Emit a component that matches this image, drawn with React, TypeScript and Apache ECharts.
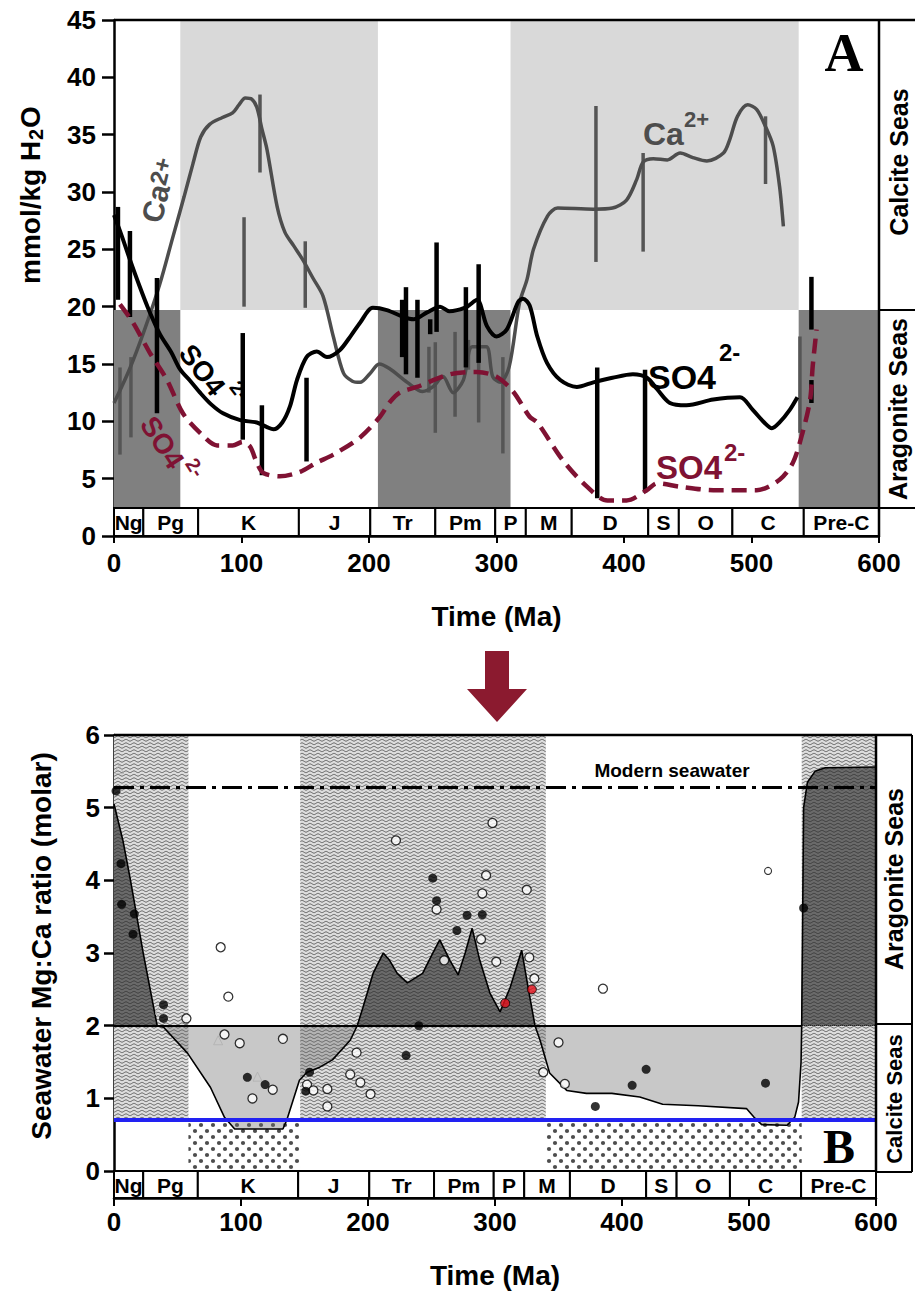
import React, { useEffect, useRef } from 'react';
import * as echarts from 'echarts';

const FONT = 'Liberation Sans';
const SERIF = 'Liberation Serif';

// ---------- shared geological time strip ----------
const periodLabels = ['Ng', 'Pg', 'K', 'J', 'Tr', 'Pm', 'P', 'M', 'D', 'S', 'O', 'C', 'Pre-C'];
const periodStarts = [0, 23, 66, 145, 201, 252, 299, 323, 359, 419, 443, 485, 541];
const periodEnds = [23, 66, 145, 201, 252, 299, 323, 359, 419, 443, 485, 541, 600];

// ---------- Panel A ----------
const calciteBandsA = [[52, 207], [311, 537]];
const aragoniteBandsA = [[0, 52], [207, 311], [537, 600]];
const seaBoundaryA = 19.7;
const stripTopA = 2.45;

const caCurve = [
  [0, 11.6], [12, 14.5], [24, 18.0], [36, 22.0], [46, 26.0], [55, 29.6], [62, 32.5], [68, 34.8], [75, 35.9],
  [85, 36.5], [93, 36.9], [98, 37.6], [103, 38.2], [108, 38.1], [112, 37.4], [116, 35.5], [120, 33.7], [128, 28.7],
  [134, 26.5], [141, 25.3], [148, 24.1], [156, 22.5], [164, 20.9], [172, 17.4], [180, 14.2], [187, 13.5], [193, 13.4],
  [201, 14.2], [208, 15.0], [216, 14.6], [230, 13.4], [242, 12.6], [250, 13.0], [258, 13.9], [266, 12.5], [274, 13.6],
  [281, 16.5], [292, 16.5], [297, 13.9], [303, 13.4], [310, 14.8], [318, 20.3], [324, 22.4], [329, 25.0], [340, 27.9],
  [348, 28.6], [376, 28.5], [391, 28.6], [402, 29.3], [410, 31.1], [415, 32.6], [423, 32.9], [434, 32.8], [444, 33.4],
  [454, 33.0], [465, 32.7], [478, 33.4], [483, 34.6], [489, 36.6], [497, 37.6], [504, 37.2], [511, 35.7], [517, 34.0],
  [522, 30.5], [525, 27.0],
];
const so4Curve = [
  [0, 28.0], [6, 26.2], [12.5, 24.1], [20, 21.8], [27, 19.8], [36, 17.6], [45, 16.0], [52, 14.5], [60, 13.5],
  [67.5, 12.5], [76, 11.5], [85.5, 10.7], [99, 10.1], [112, 9.9], [120, 9.5], [125, 9.3], [132, 9.9], [138, 11.3],
  [143.5, 13.6], [151, 15.6], [159, 16.1], [167, 15.6], [177, 16.2], [186, 17.5], [193, 18.6], [203, 19.9], [214, 19.7],
  [227, 19.1], [235, 18.9], [245.6, 19.5], [255.7, 20.0], [263, 19.6], [269, 19.7], [277, 20.0], [284.7, 20.6],
  [292.5, 18.3], [300, 17.4], [308, 18.0], [316.9, 20.4], [320.8, 20.7], [326, 20.1], [332, 17.4], [339.6, 15.1],
  [350, 13.6], [363, 13.0], [376, 13.4], [391, 13.8], [407, 14.1], [418, 13.8], [426, 12.8], [436, 11.6], [449, 11.4],
  [470, 11.9], [491, 12.1], [501, 11.0], [510, 9.9], [516, 9.4], [522, 9.9], [530, 11.0], [536, 12.1],
];
const so4Model = [
  [4.7, 20.2], [15, 18.6], [28, 16.0], [41.6, 13.6], [54, 10.7], [67.5, 9.0], [80.8, 7.9], [93, 7.9], [101, 8.2],
  [106.7, 7.8], [112, 6.4], [117, 5.5], [130, 5.2], [146, 5.6], [159, 6.4], [172, 7.1], [193, 8.6], [208.6, 10.4],
  [216.5, 11.7], [224, 12.5], [237.6, 13.0], [263.5, 14.1], [284.7, 14.3], [300, 13.9], [313, 12.6], [326, 10.4],
  [332, 9.9], [352, 6.6], [371, 4.3], [387, 3.1], [402, 3.1], [418, 4.0], [426, 4.6], [444, 4.3], [470, 4.0],
  [504, 4.0], [522, 4.9], [532.5, 6.4], [540, 9.0], [546, 11.9], [548, 14.8], [551, 18.0],
];
// [Ma, low, high]
const so4Bars = [
  [3.1, 20.6, 28.7], [12.5, 19.1, 26.6], [33.7, 10.7, 22.5], [101, 8.4, 17.7], [116, 5.3, 11.4], [151, 6.5, 13.8],
  [226, 15.6, 20.6], [229, 14.1, 21.7], [238, 13.8, 20.6], [248, 17.6, 18.9], [253, 17.8, 25.6], [276, 14.7, 21.7],
  [286, 15.1, 23.7], [379, 3.3, 14.7], [416.5, 3.8, 14.5], [547, 18.0, 22.6], [547, 11.6, 13.6],
];
const caBars = [
  [4.7, 7.1, 14.7], [13.3, 8.6, 15.6], [102, 20.0, 27.8], [114.5, 31.7, 38.5], [150, 19.9, 25.7], [247, 12.5, 16.5],
  [252, 9.0, 16.9], [267.5, 10.4, 17.8], [278, 14.5, 17.1], [286, 9.9, 16.5], [305, 7.2, 15.6], [378, 23.9, 37.5],
  [415, 24.8, 33.4], [511, 30.7, 36.6], [538, 9.0, 17.4],
];

// ---------- Panel B ----------
const mgcaCurve = [
  [0, 5.05], [7, 4.55], [13, 4.0], [23, 3.0], [34, 2.0], [39, 1.98], [58, 1.62], [76, 1.15], [87, 0.74], [95, 0.58],
  [133, 0.58], [136, 0.7], [146, 1.25], [152, 1.36], [162, 1.43], [172, 1.53], [186, 1.8], [191.5, 2.0], [196, 2.25],
  [204, 2.72], [212, 3.0], [217, 2.9], [223, 2.72], [231, 2.59], [243, 2.72], [251, 3.0], [256.5, 3.18], [264.5, 2.9],
  [271, 2.7], [276.5, 3.0], [282, 3.34], [288, 2.9], [296, 2.45], [304, 2.19], [312, 2.53], [321, 3.04], [326, 2.53],
  [331.5, 2.0], [335.5, 1.8], [343, 1.35], [356.5, 1.11], [372, 1.07], [392, 1.07], [414, 1.02], [432, 0.92],
  [460, 0.9], [498, 0.86], [504, 0.74], [510, 0.64], [530, 0.63], [536, 0.74], [539, 0.95], [541, 1.5], [541.5, 2.0],
  [543, 5.0], [546, 5.35], [552, 5.5], [560, 5.55], [600, 5.56],
];
const aragoniteBandsB = [[0, 58.6], [146.6, 340], [541.5, 600]];
const calciteBandsB = [[58.6, 146.6], [340, 541.5]];
const modernMgCa = 5.28;
const thresholdMgCa = 2;
const thresholdEnd = 541.5;
const blueMgCa = 0.7;
const stripBottomB = -0.37;
const mgcaTicks = [0, 1, 2, 3, 4, 5, 6];

const filledPts = [
  [1.6, 5.23], [5.5, 4.23], [6, 3.67], [15, 3.26], [16, 3.54], [39, 2.29], [39, 2.1], [105, 1.29], [119, 1.19],
  [151, 1.1], [154, 1.36], [230, 1.59], [240, 2.0], [251, 4.03], [254, 3.72], [270, 3.31], [278, 3.52], [290, 3.53],
  [379, 0.89], [408, 1.18], [419, 1.4], [513, 1.21], [543, 3.62],
];
const openPts = [
  [57, 2.1], [84, 3.08], [87, 1.88], [90, 2.4], [99, 1.76], [109, 1.0], [125, 1.12], [133, 1.82], [152, 1.19],
  [157, 1.11], [168, 1.13], [168, 0.89], [186, 1.33], [191, 1.63], [194, 1.22], [202, 1.06], [222, 4.55], [254, 3.6],
  [260, 2.9], [289, 3.19], [290, 3.82], [293, 4.07], [298, 4.79], [301, 2.88], [325, 3.87], [327, 2.94], [331, 2.65],
  [338, 1.36], [350, 1.77], [355, 1.2], [385, 2.51],
];
const smallOpenPts = [[515, 4.13]];
const redPts = [[308, 2.31], [329, 2.5]];
const triPts = [[4, 5.53], [36, 2.22], [82, 1.8], [113, 1.3]];

// ---------- helpers ----------
function makeWave() {
  const w = 16, h = 7;
  const c = document.createElement('canvas');
  c.width = w; c.height = h;
  const g = c.getContext('2d')!;
  g.fillStyle = '#dddddd';
  g.fillRect(0, 0, w, h);
  g.strokeStyle = '#5a5a5a';
  g.lineWidth = 1;
  [1.75, 5.25].forEach((y0) => {
    g.beginPath();
    for (let x = 0; x <= w; x += 0.5) {
      const y = y0 + 0.85 * Math.sin((2 * Math.PI * x) / 8);
      if (x === 0) g.moveTo(x, y); else g.lineTo(x, y);
    }
    g.stroke();
  });
  return { type: 'pattern', image: c.toDataURL(), repeat: 'repeat', imageWidth: w, imageHeight: h };
}
function makeDots() {
  const w = 12, h = 12;
  const c = document.createElement('canvas');
  c.width = w; c.height = h;
  const g = c.getContext('2d')!;
  g.fillStyle = '#ffffff';
  g.fillRect(0, 0, w, h);
  g.fillStyle = '#4d4d4d';
  [[3, 3], [9, 9]].forEach(([x, y]) => { g.beginPath(); g.arc(x, y, 2.1, 0, Math.PI * 2); g.fill(); });
  return { type: 'pattern', image: c.toDataURL(), repeat: 'repeat', imageWidth: w, imageHeight: h };
}

function textEl(x: number, y: number, text: string, size: number, o: any = {}) {
  const align = o.align || 'left';
  const valign = o.valign || 'middle';
  return {
    type: 'text', x, y, z: 50, rotation: o.rot || 0,
    style: {
      text, fill: o.color || '#000',
      font: `${o.weight || 'bold'} ${size}px "${o.family || FONT}"`,
      textAlign: align, align, textVerticalAlign: valign, verticalAlign: valign,
    },
  };
}
function chem(x: number, y: number, rot: number, color: string, main: string, size: number, sup: string, supSize: number, supDx: number, supDy: number) {
  return {
    type: 'group', x, y, rotation: rot, z: 50,
    children: [
      { type: 'text', x: 0, y: 0, z: 50, style: { text: main, fill: color, font: `bold ${size}px "${FONT}"`, textAlign: 'left', align: 'left', textVerticalAlign: 'middle', verticalAlign: 'middle' } },
      { type: 'text', x: supDx, y: supDy, z: 50, style: { text: sup, fill: color, font: `bold ${supSize}px "${FONT}"`, textAlign: 'left', align: 'left', textVerticalAlign: 'middle', verticalAlign: 'middle' } },
    ],
  };
}
function lineEl(x1: number, y1: number, x2: number, y2: number, w = 2.5) {
  return { type: 'line', z: 40, shape: { x1, y1, x2, y2 }, style: { stroke: '#000', lineWidth: w } };
}

function barSeries(data: number[][], color: string, width: number, z: number) {
  return {
    type: 'custom', xAxisIndex: 0, yAxisIndex: 0, z, silent: true, data, encode: { x: 0, y: [1, 2] },
    renderItem: (_p: any, api: any) => {
      const a = api.coord([api.value(0), api.value(1)]);
      const b = api.coord([api.value(0), api.value(2)]);
      return { type: 'line', shape: { x1: a[0], y1: a[1], x2: b[0], y2: b[1] }, style: { stroke: color, lineWidth: width, lineCap: 'butt' } };
    },
  };
}
function stripSeries(idx: number, y0: number, y1: number) {
  return {
    type: 'custom', xAxisIndex: idx, yAxisIndex: idx, z: 12, silent: true,
    data: periodStarts.map((s, i) => [s, periodEnds[i]]), encode: { x: [0, 1] },
    renderItem: (p: any, api: any) => {
      const a = api.coord([api.value(0), y0]);
      const b = api.coord([api.value(1), y1]);
      return {
        type: 'group',
        children: [
          { type: 'rect', shape: { x: a[0], y: b[1], width: b[0] - a[0], height: a[1] - b[1] }, style: { fill: '#fff', stroke: '#000', lineWidth: 2 } },
          { type: 'text', x: (a[0] + b[0]) / 2, y: (a[1] + b[1]) / 2 + 1, style: { text: periodLabels[p.dataIndex], fill: '#000', font: `bold 21px "${FONT}"`, textAlign: 'center', align: 'center', textVerticalAlign: 'middle', verticalAlign: 'middle' } },
        ],
      };
    },
  };
}

function buildOption() {
  const wave = makeWave();
  const dots = makeDots();
  const lbl = { color: '#000', fontSize: 26, fontWeight: 'bold', fontFamily: FONT };
  const axLine = { show: true, onZero: false, lineStyle: { color: '#000', width: 2.5 } };
  const nameStyle = { color: '#000', fontSize: 28, fontWeight: 'bold', fontFamily: FONT };

  return {
    animation: false,
    backgroundColor: '#fff',
    textStyle: { fontFamily: FONT },
    grid: [
      { left: 114, top: 20, width: 765, height: 516, outerBoundsMode: 'none' },
      { left: 114, top: 735, width: 762, height: 463, outerBoundsMode: 'none' },
    ],
    xAxis: [
      {
        gridIndex: 0, type: 'value', min: 0, max: 600, interval: 100, axisLine: axLine,
        axisTick: { show: true, length: 7, lineStyle: { color: '#000', width: 2 } },
        axisLabel: { ...lbl, margin: 14 }, splitLine: { show: false },
        name: 'Time (Ma)', nameLocation: 'middle', nameGap: 66, nameTextStyle: nameStyle,
      },
      {
        gridIndex: 1, type: 'value', min: 0, max: 600, interval: 100, axisLine: axLine,
        axisTick: { show: true, length: 8, lineStyle: { color: '#000', width: 2 } },
        axisLabel: { ...lbl, margin: 11 }, splitLine: { show: false },
        name: 'Time (Ma)', nameLocation: 'middle', nameGap: 63, nameTextStyle: nameStyle,
      },
    ],
    yAxis: [
      {
        gridIndex: 0, type: 'value', min: 0, max: 45, interval: 5, axisLine: axLine,
        axisTick: { show: true, length: 12, lineStyle: { color: '#000', width: 2.5 } },
        axisLabel: { ...lbl, margin: 18 }, splitLine: { show: false },
      },
      {
        gridIndex: 1, type: 'value', min: stripBottomB, max: 6, axisLine: axLine,
        axisTick: { show: true, length: 10, customValues: mgcaTicks, lineStyle: { color: '#000', width: 2.5 } },
        axisLabel: { ...lbl, margin: 14, customValues: mgcaTicks }, splitLine: { show: false },
      },
    ],
    series: [
      // ---- Panel A backgrounds
      {
        type: 'line', xAxisIndex: 0, yAxisIndex: 0, data: [], z: 1, silent: true,
        markArea: {
          silent: true, label: { show: false },
          data: [
            ...calciteBandsA.map(([a, b]) => [{ coord: [a, seaBoundaryA], itemStyle: { color: '#d9d9d9' } }, { coord: [b, 45] }]),
            ...aragoniteBandsA.map(([a, b]) => [{ coord: [a, stripTopA], itemStyle: { color: '#808080' } }, { coord: [b, seaBoundaryA] }]),
          ],
        },
      },
      barSeries(caBars, '#555555', 3.5, 3),
      {
        type: 'line', xAxisIndex: 0, yAxisIndex: 0, data: caCurve, z: 4, smooth: 0.3, symbol: 'none', silent: true,
        lineStyle: { color: '#4d4d4d', width: 3.5 },
      },
      barSeries(so4Bars, '#000000', 4.5, 5),
      {
        type: 'line', xAxisIndex: 0, yAxisIndex: 0, data: so4Curve, z: 6, smooth: 0.3, symbol: 'none', silent: true,
        lineStyle: { color: '#000', width: 4 },
      },
      {
        type: 'line', xAxisIndex: 0, yAxisIndex: 0, data: so4Model, z: 7, smooth: 0.3, symbol: 'none', silent: true,
        lineStyle: { color: '#7f1233', width: 4.5, type: [15, 8] },
      },
      stripSeries(0, 0, stripTopA),

      // ---- Panel B backgrounds
      {
        type: 'line', xAxisIndex: 1, yAxisIndex: 1, data: [], z: 1, silent: true,
        markArea: {
          silent: true, label: { show: false }, itemStyle: { color: wave },
          data: aragoniteBandsB.map(([a, b]) => [{ coord: [a, blueMgCa] }, { coord: [b, 6] }]),
        },
      },
      {
        type: 'line', xAxisIndex: 1, yAxisIndex: 1, data: [], z: 1, silent: true,
        markArea: {
          silent: true, label: { show: false }, itemStyle: { color: dots },
          data: calciteBandsB.map(([a, b]) => [{ coord: [a, 0] }, { coord: [b, blueMgCa] }]),
        },
      },
      {
        type: 'line', xAxisIndex: 1, yAxisIndex: 1, z: 2, symbol: 'none', silent: true,
        data: mgcaCurve.map(([x, v]) => [x, Math.min(v, thresholdMgCa)]),
        lineStyle: { width: 0, opacity: 0 },
        areaStyle: { color: 'rgba(110,110,110,0.38)', origin: thresholdMgCa, opacity: 1 },
      },
      {
        type: 'line', xAxisIndex: 1, yAxisIndex: 1, z: 3, symbol: 'none', silent: true,
        data: mgcaCurve.map(([x, v]) => [x, Math.max(v, thresholdMgCa)]),
        lineStyle: { width: 0, opacity: 0 },
        areaStyle: { color: 'rgba(40,40,40,0.64)', origin: thresholdMgCa, opacity: 1 },
      },
      {
        type: 'line', xAxisIndex: 1, yAxisIndex: 1, z: 4, symbol: 'none', silent: true, data: mgcaCurve,
        lineStyle: { color: '#000', width: 1.6 },
        markLine: {
          silent: true, symbol: ['none', 'none'], label: { show: false },
          lineStyle: { color: '#000', width: 1.8, type: 'solid' },
          data: [[{ coord: [0, thresholdMgCa] }, { coord: [thresholdEnd, thresholdMgCa] }]],
        },
      },
      {
        type: 'line', xAxisIndex: 1, yAxisIndex: 1, data: [], z: 5, silent: true,
        markLine: {
          silent: true, symbol: ['none', 'none'], label: { show: false },
          lineStyle: { color: '#000', width: 1, type: 'dotted' },
          data: [[{ coord: [thresholdEnd, thresholdMgCa] }, { coord: [600, thresholdMgCa] }]],
        },
      },
      {
        type: 'line', xAxisIndex: 1, yAxisIndex: 1, data: [], z: 5, silent: true,
        markLine: {
          silent: true, symbol: ['none', 'none'], label: { show: false },
          lineStyle: { color: '#000', width: 2.8, type: [20, 6, 4, 6] },
          data: [[{ coord: [0, modernMgCa] }, { coord: [600, modernMgCa] }]],
        },
      },
      {
        type: 'line', xAxisIndex: 1, yAxisIndex: 1, data: [], z: 6, silent: true,
        markLine: {
          silent: true, symbol: ['none', 'none'], label: { show: false },
          lineStyle: { color: '#2222f2', width: 4, type: 'solid' },
          data: [[{ coord: [0, blueMgCa] }, { coord: [600, blueMgCa] }]],
        },
      },
      {
        type: 'scatter', xAxisIndex: 1, yAxisIndex: 1, z: 8, silent: true, data: triPts, symbol: 'triangle', symbolSize: 9,
        itemStyle: { color: 'rgba(255,255,255,0)', borderColor: '#b0b0b0', borderWidth: 1 },
      },
      {
        type: 'scatter', xAxisIndex: 1, yAxisIndex: 1, z: 8, silent: true, data: openPts, symbolSize: 9,
        itemStyle: { color: '#fff', borderColor: '#000', borderWidth: 1.3 },
      },
      {
        type: 'scatter', xAxisIndex: 1, yAxisIndex: 1, z: 8, silent: true, data: smallOpenPts, symbolSize: 7,
        itemStyle: { color: '#fff', borderColor: '#000', borderWidth: 1.1 },
      },
      {
        type: 'scatter', xAxisIndex: 1, yAxisIndex: 1, z: 8, silent: true, data: filledPts, symbolSize: 9,
        itemStyle: { color: '#000' },
      },
      {
        type: 'scatter', xAxisIndex: 1, yAxisIndex: 1, z: 8, silent: true, data: redPts, symbolSize: 9,
        itemStyle: { color: '#e3101c', borderColor: '#000', borderWidth: 1 },
      },
      stripSeries(1, stripBottomB, 0),
    ],
    graphic: {
      elements: [
        // axis titles
        {
          type: 'group', x: 30, y: 284, rotation: Math.PI / 2, z: 50,
          children: [
            { type: 'text', x: 0, y: 0, style: { text: 'mmol/kg H', fill: '#000', font: `bold 28px "${FONT}"`, textAlign: 'left', align: 'left', textVerticalAlign: 'middle', verticalAlign: 'middle' } },
            { type: 'text', x: 144, y: 6, style: { text: '2', fill: '#000', font: `bold 20px "${FONT}"`, textAlign: 'left', align: 'left', textVerticalAlign: 'middle', verticalAlign: 'middle' } },
            { type: 'text', x: 156, y: 0, style: { text: 'O', fill: '#000', font: `bold 28px "${FONT}"`, textAlign: 'left', align: 'left', textVerticalAlign: 'middle', verticalAlign: 'middle' } },
          ],
        },
        textEl(41, 946, 'Seawater Mg:Ca ratio (molar)', 28, { align: 'center', rot: Math.PI / 2 }),
        // panel A frame & column
        lineEl(114, 20, 915, 20),
        lineEl(879, 20, 879, 536),
        lineEl(879, 310, 915, 310, 2),
        lineEl(879, 508, 915, 508, 2),
        textEl(899, 162, 'Calcite Seas', 25, { align: 'center', rot: Math.PI / 2 }),
        textEl(898, 409, 'Aragonite Seas', 25, { align: 'center', rot: Math.PI / 2 }),
        textEl(844, 53, 'A', 54, { align: 'center', family: SERIF }),
        // panel A labels
        chem(151, 222, 1.33, '#4d4d4d', 'Ca', 30, '2+', 24, 38, -3),
        chem(643, 134, 0, '#4d4d4d', 'Ca', 32, '2+', 22, 41, -15),
        chem(185, 348, -0.908, '#000', 'SO4', 28, '2-', 20, 58, -17),
        chem(147, 419, -0.995, '#7f1233', 'SO4', 28, '2-', 20, 58, -14),
        chem(648, 377, 0, '#000', 'SO4', 34, '2-', 24, 71, -25),
        chem(656, 467, 0, '#7f1233', 'SO4', 33, '2-', 24, 68, -15),
        // arrow
        {
          type: 'polygon', z: 40,
          shape: { points: [[485, 651], [509, 651], [509, 689], [527, 689], [497, 722], [467, 689], [485, 689]] },
          style: { fill: '#8b1a2f' },
        },
        // panel B frame & column
        lineEl(114, 735, 912, 735),
        lineEl(876, 735, 876, 1172),
        lineEl(912, 735, 912, 1172, 2),
        lineEl(876, 1024, 912, 1024, 2),
        lineEl(876, 1172, 912, 1172, 2),
        textEl(894, 879, 'Aragonite Seas', 25, { align: 'center', rot: Math.PI / 2 }),
        textEl(894, 1099, 'Calcite Seas', 22, { align: 'center', rot: Math.PI / 2 }),
        textEl(672, 770, 'Modern seawater', 19, { align: 'center' }),
        textEl(839, 1146, 'B', 48, { align: 'center', family: SERIF }),
      ],
    },
  };
}

export default function App() {
  const ref = useRef<HTMLDivElement>(null);
  useEffect(() => {
    if (!ref.current) return;
    const chart = echarts.init(ref.current, null, { renderer: 'svg' });
    chart.setOption(buildOption() as any);
    return () => chart.dispose();
  }, []);
  return (
    <div
      ref={ref}
      style={{ position: 'absolute', left: 0, top: 0, width: 915, height: 1294, background: '#fff' }}
    />
  );
}
